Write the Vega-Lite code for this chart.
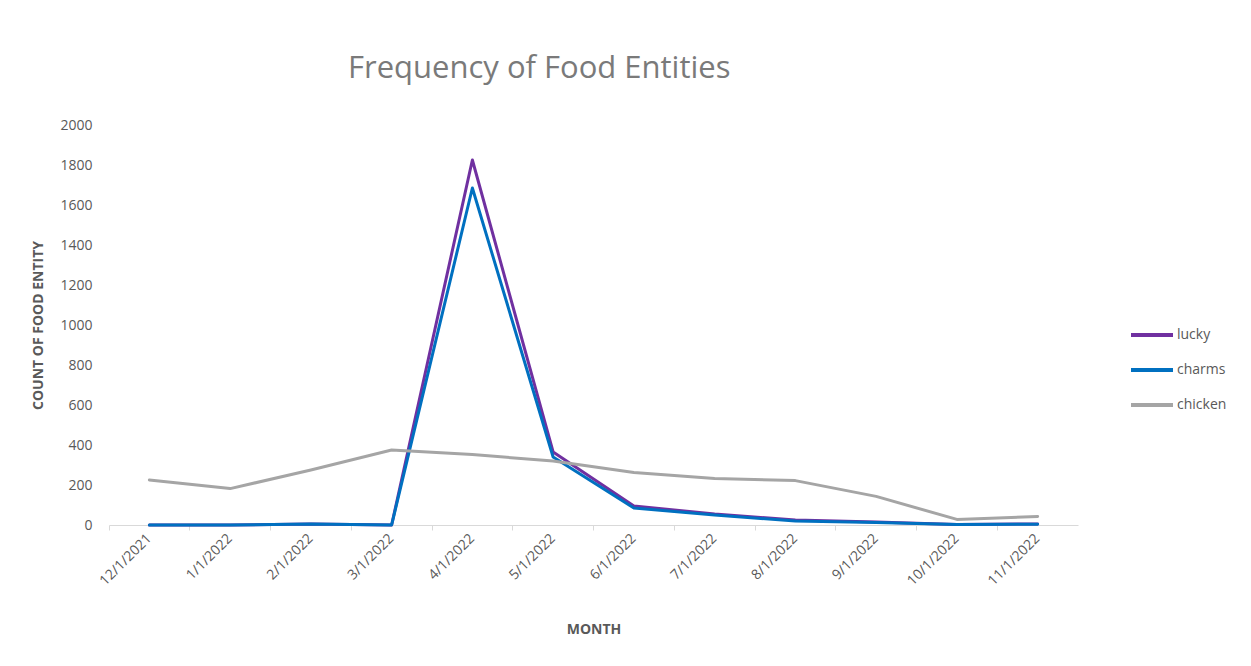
{
  "$schema": "https://vega.github.io/schema/vega-lite/v6.json",
  "autosize": {"type": "none"},
  "width": 969,
  "height": 400,
  "padding": {"left": 109, "top": 125, "right": 173, "bottom": 141},
  "background": "white",
  "title": {
    "text": "Frequency of Food Entities",
    "font": "Open Sans",
    "fontSize": 31,
    "fontWeight": "normal",
    "color": "#7a7a7a",
    "anchor": "start",
    "dx": 316,
    "offset": 33
  },
  "data": {
    "values": [
      {"month": "12/1/2021", "series": "lucky", "value": 0},
      {"month": "1/1/2022", "series": "lucky", "value": 0},
      {"month": "2/1/2022", "series": "lucky", "value": 5},
      {"month": "3/1/2022", "series": "lucky", "value": 0},
      {"month": "4/1/2022", "series": "lucky", "value": 1825},
      {"month": "5/1/2022", "series": "lucky", "value": 365},
      {"month": "6/1/2022", "series": "lucky", "value": 95},
      {"month": "7/1/2022", "series": "lucky", "value": 55},
      {"month": "8/1/2022", "series": "lucky", "value": 25},
      {"month": "9/1/2022", "series": "lucky", "value": 15},
      {"month": "10/1/2022", "series": "lucky", "value": 3},
      {"month": "11/1/2022", "series": "lucky", "value": 5},
      {"month": "12/1/2021", "series": "charms", "value": 0},
      {"month": "1/1/2022", "series": "charms", "value": 0},
      {"month": "2/1/2022", "series": "charms", "value": 5},
      {"month": "3/1/2022", "series": "charms", "value": 0},
      {"month": "4/1/2022", "series": "charms", "value": 1685},
      {"month": "5/1/2022", "series": "charms", "value": 340},
      {"month": "6/1/2022", "series": "charms", "value": 85},
      {"month": "7/1/2022", "series": "charms", "value": 50},
      {"month": "8/1/2022", "series": "charms", "value": 20},
      {"month": "9/1/2022", "series": "charms", "value": 12},
      {"month": "10/1/2022", "series": "charms", "value": 3},
      {"month": "11/1/2022", "series": "charms", "value": 4},
      {"month": "12/1/2021", "series": "chicken", "value": 225},
      {"month": "1/1/2022", "series": "chicken", "value": 182},
      {"month": "2/1/2022", "series": "chicken", "value": 275},
      {"month": "3/1/2022", "series": "chicken", "value": 375},
      {"month": "4/1/2022", "series": "chicken", "value": 352},
      {"month": "5/1/2022", "series": "chicken", "value": 320},
      {"month": "6/1/2022", "series": "chicken", "value": 262},
      {"month": "7/1/2022", "series": "chicken", "value": 232},
      {"month": "8/1/2022", "series": "chicken", "value": 222},
      {"month": "9/1/2022", "series": "chicken", "value": 143},
      {"month": "10/1/2022", "series": "chicken", "value": 28},
      {"month": "11/1/2022", "series": "chicken", "value": 43}
    ]
  },
  "mark": {"type": "line", "strokeWidth": 3, "strokeJoin": "round", "strokeCap": "round"},
  "encoding": {
    "x": {
      "field": "month",
      "type": "nominal",
      "sort": ["12/1/2021", "1/1/2022", "2/1/2022", "3/1/2022", "4/1/2022", "5/1/2022", "6/1/2022", "7/1/2022", "8/1/2022", "9/1/2022", "10/1/2022", "11/1/2022"],
      "scale": {"type": "band", "paddingInner": 0, "paddingOuter": 0},
      "axis": {
        "title": "MONTH",
        "titleFont": "Open Sans",
        "titleFontSize": 14,
        "titleFontWeight": "bold",
        "titleColor": "#595959",
        "titlePadding": 35,
        "labelAngle": -45,
        "labelAlign": "right",
        "labelBaseline": "middle",
        "labelFont": "Open Sans",
        "labelFontSize": 14,
        "labelColor": "#595959",
        "labelPadding": 6,
        "bandPosition": 0,
        "domainColor": "#d9d9d9",
        "tickColor": "#d9d9d9",
        "tickSize": 5,
        "grid": false
      }
    },
    "y": {
      "field": "value",
      "type": "quantitative",
      "scale": {"domain": [0, 2000]},
      "axis": {
        "title": "COUNT OF FOOD ENTITY",
        "titleFont": "Open Sans",
        "titleFontSize": 14,
        "titleFontWeight": "bold",
        "titleColor": "#595959",
        "titlePadding": 14,
        "values": [0, 200, 400, 600, 800, 1000, 1200, 1400, 1600, 1800, 2000],
        "format": "d",
        "labelFont": "Open Sans",
        "labelFontSize": 14,
        "labelColor": "#595959",
        "labelPadding": 17,
        "domain": false,
        "ticks": false,
        "grid": false
      }
    },
    "color": {
      "field": "series",
      "type": "nominal",
      "sort": ["lucky", "charms", "chicken"],
      "scale": {"domain": ["lucky", "charms", "chicken"], "range": ["#7030A0", "#0070C0", "#A5A5A5"]},
      "legend": {
        "title": null,
        "orient": "none",
        "legendX": 1020,
        "legendY": 187,
        "symbolType": "stroke",
        "symbolStrokeWidth": 4,
        "symbolSize": 1764,
        "rowPadding": 4,
        "labelFont": "Open Sans",
        "labelFontSize": 14,
        "labelColor": "#595959",
        "labelOffset": 2
      }
    }
  },
  "config": {"view": {"stroke": null}}
}
